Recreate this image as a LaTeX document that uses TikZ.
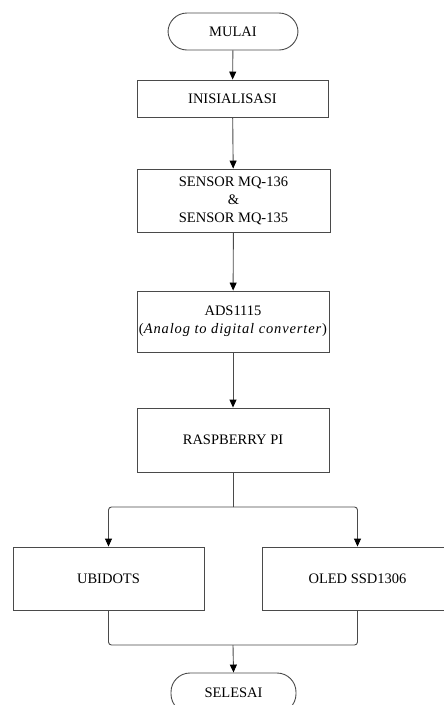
\documentclass[tikz,border=0pt]{standalone}
\usepackage{fontspec}
\setmainfont{Liberation Serif}
\usetikzlibrary{arrows.meta}
\definecolor{linegray}{HTML}{4A4A4A}
\begin{document}
\begin{tikzpicture}[x=1pt,y=-1pt,
  box/.style={draw=linegray, line width=0.9pt, inner sep=0pt, align=center,
    font=\fontsize{14.5}{18}\selectfont, text=black, minimum width=191pt},
  term/.style={box, rounded corners=19pt, minimum height=38pt},
  flow/.style={draw=linegray, line width=0.9pt, -{Triangle[length=8pt,width=7pt,color=black]}},
  joinline/.style={draw=linegray, line width=0.9pt, rounded corners=3pt}]
\useasboundingbox (0,0) rectangle (444,705);
\clip (0,0) rectangle (444,705);
\fill[white] (0,0) rectangle (444,705);
\node[term, minimum width=130pt, minimum height=37pt] (mulai) at (233,31.5) {MULAI};
\node[box, minimum height=37pt] (init) at (232.5,98.5) {INISIALISASI};
\node[box, minimum width=193pt, minimum height=63pt] (sensor) at (233.5,200.5) {SENSOR MQ-136\\\&\\SENSOR MQ-135};
\node[box, minimum width=192pt, minimum height=61pt] (ads) at (233,321.5) {ADS1115\\({\addfontfeature{LetterSpace=6}\textit{Analog to digital converter}})};
\node[box, minimum width=192pt, minimum height=64pt] (rpi) at (233,440) {RASPBERRY PI};
\node[box, minimum height=63pt] (ubi) at (108.5,578.5) {UBIDOTS};
\node[box, minimum height=63pt] (oled) at (357.5,578.5) {OLED SSD1306};
\node[term, minimum width=125pt, minimum height=40pt] (selesai) at (233.5,693) {SELESAI};
\coordinate (split) at (233,507);
\coordinate (merge) at (233,645);
\draw[flow] (mulai) -- (init);
\draw[flow] (init) -- (sensor);
\draw[flow] (sensor) -- (ads);
\draw[flow] (ads) -- (rpi);
\draw[joinline] (rpi.south) -- (split);
\draw[flow, rounded corners=3pt] (split) -| (ubi.north);
\draw[flow, rounded corners=3pt] (split) -| (oled.north);
\draw[joinline] (ubi.south) |- (merge) -| (oled.south);
\draw[flow] (merge) -- (selesai.north);
\end{tikzpicture}
\end{document}
